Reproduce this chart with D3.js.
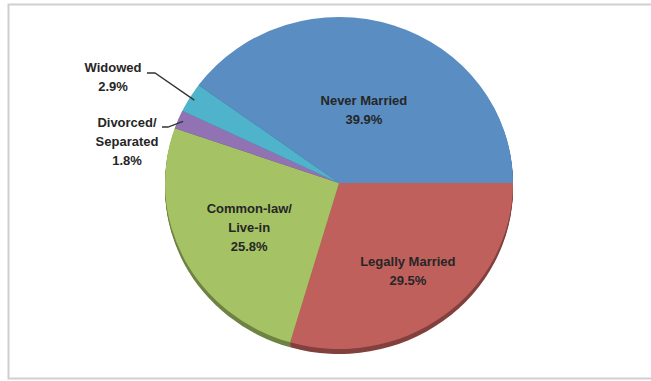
<!DOCTYPE html>
<html>
<head>
<meta charset="utf-8">
<script src="https://cdn.jsdelivr.net/npm/d3@7"></script>
<style>
  html, body { margin: 0; padding: 0; background: #fff; }
  svg { display: block; }
  text { font-family: "Liberation Sans", Arial, sans-serif; font-weight: bold; fill: #262626; }
</style>
</head>
<body>
<svg id="chart" width="651" height="381"></svg>
<script>
// Marital status shares (%)
const categories = ["Legally Married", "Common-law/ Live-in", "Divorced/ Separated", "Widowed", "Never Married"];
const labelLines = [["Legally Married"], ["Common-law/", "Live-in"], ["Divorced/", "Separated"], ["Widowed"], ["Never Married"]];
const values = [29.5, 25.8, 1.8, 2.9, 39.9];
const colors = ["#c0605c", "#a5c264", "#9173b4", "#4eb3cb", "#5a8dc2"];

const W = 651, H = 381;
const svg = d3.select("#chart");

// Chart frame
svg.append("rect")
  .attr("x", 8.5).attr("y", 4.5)
  .attr("width", W + 10).attr("height", 374)
  .attr("fill", "#fff")
  .attr("stroke", "#cfcfcf").attr("stroke-width", 2);

const cx = 339, cy = 183, rx = 174, ry = 166, depth = 5;
const sy = ry / rx;

const pie = d3.pie().sort(null).value(d => d)
  .startAngle(Math.PI / 2).endAngle(Math.PI / 2 + 2 * Math.PI);
const arcs = pie(values);
const arc = d3.arc().innerRadius(0).outerRadius(rx);

// Side walls of the tilted pie
const sideG = svg.append("g");
for (let k = depth; k >= 1; k--) {
  sideG.append("g")
    .attr("transform", `translate(${cx},${cy + k}) scale(1,${sy})`)
    .selectAll("path").data(arcs).join("path")
    .attr("d", arc)
    .attr("fill", (d, i) => d3.color(colors[i]).darker(1.1));
}

// Top face
const faceG = svg.append("g").attr("transform", `translate(${cx},${cy}) scale(1,${sy})`);
faceG.selectAll("path").data(arcs).join("path")
  .attr("d", arc)
  .attr("fill", (d, i) => colors[i]);

// Point on the ellipse at a given angle and radius fraction
function pt(angle, frac) {
  return [cx + Math.sin(angle) * rx * frac, cy - Math.cos(angle) * ry * frac];
}
const mid = d => (d.startAngle + d.endAngle) / 2;
const pct = v => d3.format(".1f")(v) + "%";

const lineH = 19;
const fontSize = 13;

function drawLabel(lines, x, y) {
  const t = svg.append("text")
    .attr("text-anchor", "middle")
    .attr("font-size", fontSize);
  lines.forEach((s, j) => {
    t.append("tspan")
      .attr("x", x)
      .attr("y", y + (j - (lines.length - 1) / 2) * lineH + fontSize * 0.35)
      .text(s);
  });
}

// Inside labels
const insideFrac = { 0: 0.66, 1: 0.58, 4: 0.46 };
Object.keys(insideFrac).forEach(key => {
  const i = +key, d = arcs[i];
  const [x, y] = pt(mid(d), insideFrac[i]);
  drawLabel(labelLines[i].concat([pct(values[i])]), x, y);
});

// Outside labels with leader lines
const outside = [
  { i: 3, tx: 113, ty: 77, elbow: [[155, 73], [147, 73]], frac: 0.97 },
  { i: 2, tx: 127, ty: 141, elbow: [[168, 127], [162, 127]], frac: 0.97 }
];
outside.forEach(o => {
  const d = arcs[o.i];
  const start = pt(mid(d), o.frac);
  svg.append("path")
    .attr("d", d3.line()([start].concat(o.elbow)))
    .attr("fill", "none")
    .attr("stroke", "#333")
    .attr("stroke-width", 1.3);
  drawLabel(labelLines[o.i].concat([pct(values[o.i])]), o.tx, o.ty);
});
</script>
</body>
</html>
